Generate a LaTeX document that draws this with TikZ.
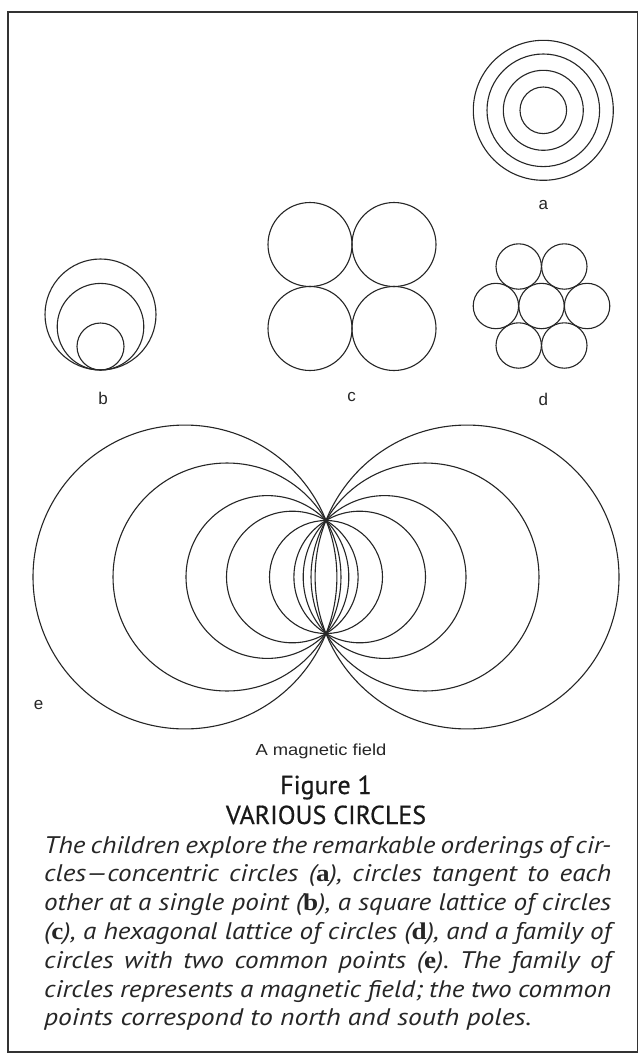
\documentclass[tikz,border=0pt]{standalone}
\usepackage{fontspec}
\setmainfont{Liberation Sans}
\newfontfamily\capfont{PT Sans}
\newfontfamily\headfont{PT Sans}[FakeBold=0.6]
\newfontfamily\serifb{Liberation Serif}
\newcommand\Bltr[1]{{\serifb\upshape\bfseries #1}}
\newcommand\capjust[1]{\scalebox{1.13}[1]{\makebox[501.8pt][s]{#1}}}
\newcommand\capnat[1]{\scalebox{1.15}[1]{#1}}
\frenchspacing
\begin{document}
\begin{tikzpicture}[x=1pt,y=-1pt,
  circ/.style={draw=black!85, line width=1.1pt},
  framebox/.style={draw=black!80, line width=1.6pt},
  lbl/.style={font=\fontsize{17}{17}\selectfont, text=black!85, inner sep=0pt},
  fieldlbl/.style={font=\fontsize{16}{16}\selectfont, text=black!85, inner sep=0pt, anchor=base},
  headline/.style={font=\headfont\fontsize{26}{26}\selectfont, text=black!90, inner sep=0pt, anchor=base},
  capline/.style={anchor=base west, inner sep=0pt, font=\capfont\itshape\fontsize{24}{24}\selectfont\frenchspacing, text=black!85},
]
\useasboundingbox (0,0) rectangle (639,1055);
\fill[white] (0,0) rectangle (639,1055);
% frame
\draw[framebox] (8,12) rectangle (637.5,1052);
% (a) concentric circles
\foreach \r in {70,56.3,40,23.3}
  \draw[circ] (543.3,110.3) circle[radius=\r pt];
\node[lbl] (la) at (543.3,205) {a};
% (b) internally tangent circles
\foreach \r in {55.5,43.3,23.5}
  \draw[circ] (100.5,{370-\r}) circle[radius=\r pt];
\node[lbl] (lb) at (103,398) {b};
% (c) square lattice
\foreach \px/\py in {310/244.5,394/244.5,310/328.5,394/328.5}
  \draw[circ] (\px,\py) circle[radius=42pt];
\node[lbl] (lc) at (351.7,396.7) {c};
% (d) hexagonal lattice
\foreach \dx/\dy in {0/0,45.6/0,-45.6/0,22.8/39.5,-22.8/39.5,22.8/-39.5,-22.8/-39.5}
  \draw[circ] ({541.5+\dx},{306+\dy}) circle[radius=22.7pt];
\node[lbl] (ld) at (543.3,399.3) {d};
% (e) family of circles through two points
\draw[circ] (326,577) circle[radius=56.5pt];
\foreach \c/\r in {141.05/151.94,99.0/113.99,58.6/81.40,33.7/65.79}{
  \draw[circ] ({326-\c},577) circle[radius=\r pt];
  \draw[circ] ({326+\c},577) circle[radius=\r pt];
}
\node[lbl] (le) at (38.7,705) {e};
\node[fieldlbl] (field) at (321,755) {\scalebox{1.15}[1]{A magnetic field}};
% caption
\node[headline] (fig) at (326,794) {Figure 1};
\node[headline] (title) at (326,824) {VARIOUS CIRCLES};
\node[capline] (l1) at (44,853) {\capjust{The children explore the remarkable orderings of cir-}};
\node[capline] (l2) at (44,881.8) {\capjust{cles—concentric circles (\Bltr{a}), circles tangent to each}};
\node[capline] (l3) at (44,910.6) {\capjust{other at a single point (\Bltr{b}), a square lattice of circles}};
\node[capline] (l4) at (44,939.4) {\capjust{(\Bltr{c}), a hexagonal lattice of circles (\Bltr{d}), and a family of}};
\node[capline] (l5) at (44,968.2) {\capjust{circles with two common points (\Bltr{e}). The family of}};
\node[capline] (l6) at (44,997) {\capjust{circles represents a magnetic field; the two common}};
\node[capline] (l7) at (44,1025.8) {\capnat{points correspond to north and south poles.}};
\end{tikzpicture}
\end{document}
